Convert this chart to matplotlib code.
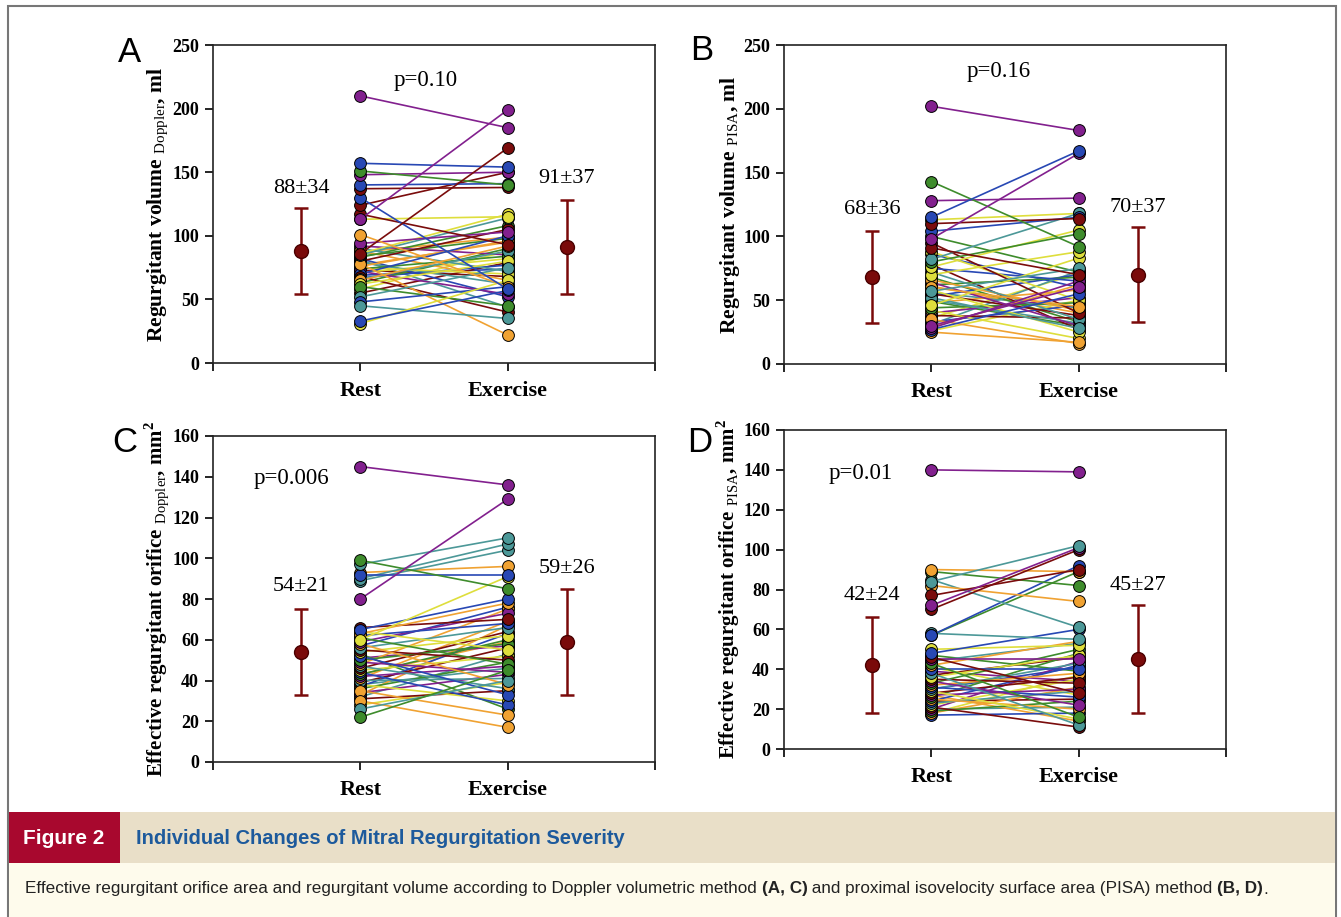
import matplotlib
matplotlib.use('Agg')
import matplotlib.pyplot as plt
from matplotlib.patches import Rectangle

# Data: individual patients, rest vs exercise
rvol_doppler_rest = [210, 113, 86, 157, 151, 148, 140, 137, 130, 124, 117, 113, 101, 94, 85, 33, 31, 45, 48, 52,
                     78, 60, 62, 65, 66, 68, 70, 72, 74, 75, 76, 79, 80, 82, 84, 86, 88, 90, 92, 63,
                     67, 71, 73, 77, 81, 83, 58, 55, 69, 87]
rvol_doppler_ex = [185, 199, 169, 154, 140, 150, 141, 138, 58, 150, 93, 115, 60, 103, 114, 57, 65, 35, 60, 75,
                   22, 45, 80, 92, 88, 40, 100, 54, 84, 70, 96, 62, 105, 52, 98, 117, 65, 72, 85, 90,
                   77, 82, 68, 95, 44, 108, 88, 79, 74, 99]

rvol_pisa_rest = [202, 115, 98, 143, 128, 110, 104, 91, 82, 113, 80, 76, 70, 57, 46, 30, 28, 27, 25, 35,
                  52, 60, 100, 95, 88, 75, 72, 66, 64, 62, 58, 55, 53, 50, 48, 44, 42, 40, 38, 33,
                  31, 29, 26, 68, 78, 86, 61, 56, 36, 49]
rvol_pisa_ex = [183, 167, 165, 92, 130, 114, 115, 70, 118, 118, 102, 105, 88, 75, 83, 60, 65, 55, 17, 16,
                28, 45, 72, 40, 50, 65, 35, 42, 30, 68, 25, 38, 70, 32, 58, 48, 20, 52, 36, 46,
                73, 62, 50, 33, 27, 60, 40, 44, 71, 30]

eroa_doppler_rest = [145, 80, 99, 97, 92, 90, 89, 93, 60, 65, 63, 22, 26, 30, 35, 66, 64, 62, 61, 59,
                     58, 56, 55, 54, 52, 50, 49, 48, 47, 46, 45, 44, 43, 42, 41, 40, 39, 38, 37, 36,
                     34, 33, 32, 31, 28, 57, 53, 51, 43, 38]
eroa_doppler_ex = [136, 129, 85, 110, 92, 107, 104, 96, 91, 80, 78, 45, 40, 17, 23, 70, 55, 68, 48, 73,
                   38, 66, 50, 62, 33, 58, 44, 75, 36, 64, 52, 28, 60, 47, 69, 41, 56, 30, 63, 49,
                   43, 67, 53, 35, 39, 76, 26, 57, 59, 46]

eroa_pisa_rest = [140, 84, 72, 70, 77, 90, 89, 82, 85, 57, 57, 58, 48, 50, 46, 45, 43, 42, 40, 38,
                  36, 35, 34, 33, 32, 31, 30, 29, 28, 27, 26, 25, 24, 23, 22, 21, 20, 19, 18, 17,
                  44, 41, 37, 39, 47, 27, 30, 20, 18, 24]
eroa_pisa_ex = [139, 102, 101, 100, 90, 89, 82, 74, 61, 92, 89, 55, 60, 52, 28, 45, 16, 54, 40, 12,
                47, 33, 22, 50, 38, 26, 43, 15, 36, 30, 48, 20, 42, 29, 35, 11, 44, 24, 31, 18,
                53, 27, 46, 34, 39, 14, 41, 21, 37, 25]

# group means and SD
means_rest = [88, 68, 54, 42]
sds_rest = [34, 36, 21, 24]
means_ex = [91, 70, 59, 45]
sds_ex = [37, 37, 26, 27]
p_values = ['p=0.10', 'p=0.16', 'p=0.006', 'p=0.01']
categories = ['Rest', 'Exercise']

# line colours per patient
palette = {'P': '#82208e', 'R': '#7a0c0c', 'B': '#2848b4', 'G': '#3e8c2c',
           'T': '#4c9898', 'Y': '#dede3c', 'O': '#f0a232'}
codes_a = 'PPRBGPBRBRRYOPTBYTBTO' + 'GYOTRBPGYOTRBGYOTPGBYROTGYRBO'
codes_b = 'PBPGPRBRTYGYYTYPPBOOTO' + 'GRYBTOPGYRBTOGYPRBTOYGRBOTYG'
codes_c = 'PPGTBTTOYBOGTOO' + 'RYBGPOT' * 5
codes_d = 'PTPRROGOTBGTB' + 'YRPGOBT' * 5 + 'YR'

plt.rcParams['mathtext.fontset'] = 'custom'
plt.rcParams['mathtext.rm'] = 'Liberation Serif'
plt.rcParams['mathtext.bf'] = 'Liberation Serif:bold'

W, H = 1341, 917
fig = plt.figure(figsize=(W / 100, H / 100), dpi=100)

def box(x0, y0, x1, y1):
    return [x0 / W, 1 - y1 / H, (x1 - x0) / W, (y1 - y0) / H]

panels = [
    dict(rect=box(213, 45, 655, 363), rest=rvol_doppler_rest, ex=rvol_doppler_ex, codes=codes_a, ymax=250,
         yticks=range(0, 251, 50), label='Regurgitant volume $_{\\mathrm{Doppler}}$, ml', lsize=15.5,
         letter='A', letter_xy=(130, 52), p_xy=(1.44, 222), l_xy=(0.6, 137), r_xy=(2.4, 145)),
    dict(rect=box(784, 45, 1226, 364), rest=rvol_pisa_rest, ex=rvol_pisa_ex, codes=codes_b, ymax=250,
         yticks=range(0, 251, 50), label='Regurgitant volume $_{\\mathrm{PISA}}$, ml', lsize=15.5,
         letter='B', letter_xy=(702, 50), p_xy=(1.46, 229), l_xy=(0.6, 121), r_xy=(2.4, 123)),
    dict(rect=box(213, 436, 655, 762), rest=eroa_doppler_rest, ex=eroa_doppler_ex, codes=codes_c, ymax=160,
         yticks=range(0, 161, 20), label='Effective regurgitant orifice $_{\\mathrm{Doppler}}$, mm$^{\\mathbf{2}}$',
         lsize=15, letter='C', letter_xy=(125, 443), p_xy=(0.53, 139), l_xy=(0.6, 86), r_xy=(2.4, 95)),
    dict(rect=box(784, 430, 1226, 749), rest=eroa_pisa_rest, ex=eroa_pisa_ex, codes=codes_d, ymax=160,
         yticks=range(0, 161, 20), label='Effective regurgitant orifice $_{\\mathrm{PISA}}$, mm$^{\\mathbf{2}}$',
         lsize=15, letter='D', letter_xy=(700, 443), p_xy=(0.52, 138), l_xy=(0.6, 77), r_xy=(2.4, 82)),
]

serif = 'Liberation Serif'
for i, pn in enumerate(panels):
    ax = fig.add_axes(pn['rect'])
    rest, ex, codes = pn['rest'], pn['ex'], pn['codes']
    for k in reversed(range(len(rest))):
        c = palette[codes[k]]
        ax.plot([1, 2], [rest[k], ex[k]], '-o', color=c, mfc=c, mec='black', mew=0.7,
                ms=8.5, lw=1.2, zorder=2)
    ax.errorbar([0.6], [means_rest[i]], yerr=[sds_rest[i]], fmt='o', color='#7a0a0a', mec='#4a0000',
                ms=10, elinewidth=1.8, capsize=5, capthick=1.8, zorder=3)
    ax.errorbar([2.4], [means_ex[i]], yerr=[sds_ex[i]], fmt='o', color='#7a0a0a', mec='#4a0000',
                ms=10, elinewidth=1.8, capsize=5, capthick=1.8, zorder=3)
    ax.set_xlim(0, 3)
    ax.set_ylim(0, pn['ymax'])
    ax.set_xticks([0, 1, 2, 3])
    ax.set_xticklabels(['', categories[0], categories[1], ''], fontfamily=serif,
                       fontweight='bold', fontsize=16)
    ax.set_yticks(list(pn['yticks']))
    ax.set_yticklabels([str(v) for v in pn['yticks']], fontfamily=serif, fontweight='bold', fontsize=13)
    ax.tick_params(direction='out', length=6, width=1.2, pad=4)
    ax.tick_params(axis='x', pad=7)
    for s in ax.spines.values():
        s.set_linewidth(1.2)
        s.set_color('#222222')
    ax.set_ylabel(pn['label'], fontfamily=serif, fontweight='bold', fontsize=pn['lsize'])
    ax.yaxis.set_label_coords(-0.095, 0.5)
    ax.text(pn['p_xy'][0], pn['p_xy'][1], p_values[i], fontfamily=serif, fontsize=16.5,
            ha='center', va='center')
    ax.text(pn['l_xy'][0], pn['l_xy'][1], '%d\u00b1%d' % (means_rest[i], sds_rest[i]),
            fontfamily=serif, fontsize=16, ha='center', va='center')
    ax.text(pn['r_xy'][0], pn['r_xy'][1], '%d\u00b1%d' % (means_ex[i], sds_ex[i]),
            fontfamily=serif, fontsize=16, ha='center', va='center')
    fig.text(pn['letter_xy'][0] / W, 1 - pn['letter_xy'][1] / H, pn['letter'],
             fontfamily='Liberation Sans', fontsize=25, ha='center', va='center')

# outer frame
fig.patches.append(Rectangle((8 / W, 0), 1328 / W, 1 - 6 / H, transform=fig.transFigure,
                             fill=False, edgecolor='#777777', lw=1.5))
# caption bars
fig.patches.append(Rectangle((9 / W, 1 - 863 / H), 1326 / W, 51 / H, transform=fig.transFigure,
                             facecolor='#e9dfc8', edgecolor='none'))
fig.patches.append(Rectangle((9 / W, 1 - 863 / H), 111 / W, 51 / H, transform=fig.transFigure,
                             facecolor='#a8082e', edgecolor='none'))
fig.patches.append(Rectangle((9 / W, 0), 1326 / W, 1 - 863 / H, transform=fig.transFigure,
                             facecolor='#fefbec', edgecolor='none'))

cap_font = 'Liberation Sans'
fig.text(64 / W, 1 - 838 / H, 'Figure 2', color='white', fontweight='bold', fontsize=15,
         fontfamily=cap_font, ha='center', va='center')
fig.text(136 / W, 1 - 838 / H, 'Individual Changes of Mitral Regurgitation Severity', color='#1d5a9c',
         fontweight='bold', fontsize=14.5, fontfamily=cap_font, ha='left', va='center')

pieces = [('Effective regurgitant orifice area and regurgitant volume according to Doppler volumetric method ', 'normal'),
          ('(A, C)', 'bold'),
          (' and proximal isovelocity surface area (PISA) method ', 'normal'),
          ('(B, D)', 'bold'),
          ('.', 'normal')]
fig.canvas.draw()
renderer = fig.canvas.get_renderer()
x = 25
for txt, wt in pieces:
    t = fig.text(x / W, 1 - 889 / H, txt, color='#222222', fontweight=wt, fontsize=12.3,
                 fontfamily=cap_font, ha='left', va='center')
    x += t.get_window_extent(renderer).width

fig.savefig('out.png', dpi=100)
